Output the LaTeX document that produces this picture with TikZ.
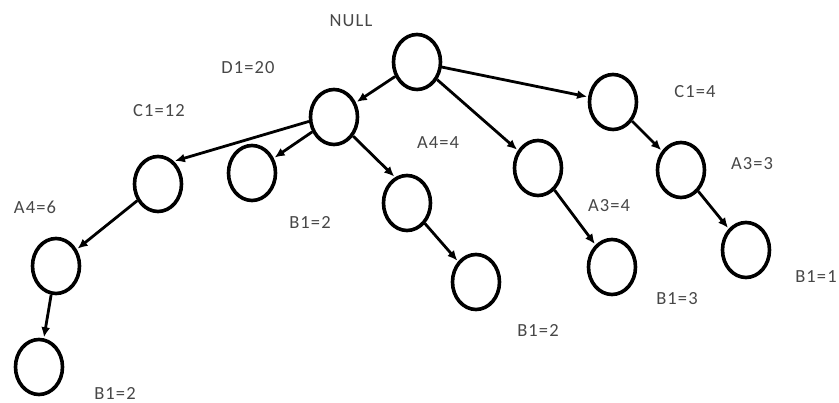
\documentclass[tikz,border=0pt]{standalone}
\usepackage{fontspec}
\setmainfont{Carlito}
\newfontfamily\tagfont[LetterSpace=6]{Carlito}
\usetikzlibrary{shapes.geometric,arrows.meta}
\begin{document}
\begin{tikzpicture}[x=1pt,y=-1pt,
  state/.style={draw=black,line width=3.6pt,ellipse,minimum width=47pt,minimum height=55pt,inner sep=0pt},
  link/.style={line width=2.8pt,-{Latex[length=10pt,width=9pt]},shorten >=1pt},
  tag/.style={text=black!72,font=\tagfont\fontsize{18.5}{20}\selectfont,inner sep=0pt}]
\useasboundingbox (0,0) rectangle (839,403);
% tree nodes
\node[state] (root) at (417,62) {};
\node[state] (d1)   at (334,117) {};
\node[state] (c1l)  at (158,184) {};
\node[state] (b1a)  at (252,173) {};
\node[state] (a4m)  at (407,203) {};
\node[state] (b1b)  at (476,282) {};
\node[state] (a4r)  at (538,168) {};
\node[state] (b1c)  at (612,267) {};
\node[state] (c1r)  at (613,102) {};
\node[state] (a3r)  at (681,170) {};
\node[state] (b1d)  at (746,250) {};
\node[state] (a4l)  at (56,266) {};
\node[state] (b1e)  at (39,367) {};
% edge labels
\node[tag] (tnull) at (351,21) {NULL};
\node[tag] (td1)   at (248,68) {D1=20};
\node[tag] (tc1l)  at (159,111) {C1=12};
\node[tag] (ta4m)  at (438,143) {A4=4};
\node[tag] (tc1r)  at (695,92) {C1=4};
\node[tag] (ta3r)  at (752,164) {A3=3};
\node[tag] (ta4l)  at (35,207) {A4=6};
\node[tag] (tb1a)  at (310,222) {B1=2};
\node[tag] (ta3m)  at (609,206) {A3=4};
\node[tag] (tb1b)  at (538,330) {B1=2};
\node[tag] (tb1c)  at (677,299) {B1=3};
\node[tag] (tb1d)  at (816,277) {B1=1};
\node[tag] (tb1e)  at (115,393) {B1=2};
% connectors
\draw[link] (root) -- (d1);
\draw[link] (root) -- (c1r);
\draw[link] (root) -- (a4r);
\draw[link] (d1.190) -- (c1l.55);
\draw[link] (d1) -- (b1a);
\draw[link] (d1.315) -- (a4m.115);
\draw[link] (a4m) -- (b1b);
\draw[link] (a4r) -- (b1c);
\draw[link] (c1r) -- (a3r);
\draw[link] (a3r) -- (b1d);
\draw[link] (c1l) -- (a4l);
\draw[link] (a4l) -- (b1e);
\end{tikzpicture}
\end{document}
